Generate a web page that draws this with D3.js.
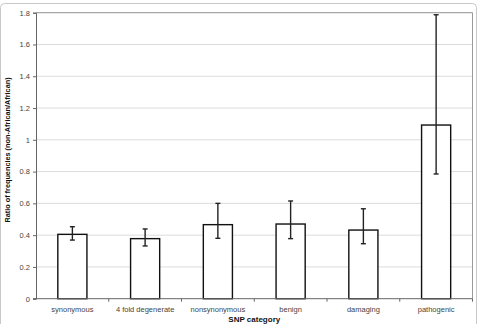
<!DOCTYPE html>
<html>
<head>
<meta charset="utf-8">
<script src="https://cdn.jsdelivr.net/npm/d3@7"></script>
<style>
  html, body { margin: 0; padding: 0; background: #fff; }
  svg { display: block; font-family: "Liberation Sans", Arial, sans-serif; }
</style>
</head>
<body>
<div id="svgOutput"></div>
<script>
// data

const categories = ["synonymous", "4 fold degenerate", "nonsynonymous", "benign", "damaging", "pathogenic"];
const ratios = [0.405, 0.378, 0.466, 0.470, 0.432, 1.093];
const errLow = [0.369, 0.332, 0.380, 0.378, 0.346, 0.785];
const errHigh = [0.453, 0.439, 0.600, 0.615, 0.566, 1.787];
const yTicks = [0, 0.2, 0.4, 0.6, 0.8, 1, 1.2, 1.4, 1.6, 1.8];

// config

const width = 480;
const height = 324;
const margin = { top: 12.7, bottom: 25.3, left: 36, right: 7.5 };

const data = categories.map((c, i) => ({
  cat: c, value: ratios[i], lo: errLow[i], hi: errHigh[i]
}));

// scales

const xScale = d3.scaleBand()
  .domain(categories)
  .range([margin.left, width - margin.right])
  .paddingInner(0.6)
  .paddingOuter(0.3);

const xOuter = d3.scaleBand()
  .domain(categories)
  .range([margin.left, width - margin.right]);

const yScale = d3.scaleLinear()
  .domain([0, 1.8])
  .range([height - margin.bottom, margin.top]);

const svg = d3.select("#svgOutput")
  .append("svg")
  .attr("width", width)
  .attr("height", height)
  .attr("viewBox", [0, 0, width, height]);

// outer frame
svg.append("rect")
  .attr("x", 0.5).attr("y", 3.5)
  .attr("width", 476).attr("height", 330)
  .attr("rx", 4)
  .attr("fill", "none")
  .attr("stroke", "#c8c8c8")
  .attr("stroke-width", 1);

// gridlines
svg.append("g")
  .selectAll("line")
  .data(yTicks.slice(1))
  .join("line")
  .attr("x1", margin.left)
  .attr("x2", width - margin.right)
  .attr("y1", d => yScale(d))
  .attr("y2", d => yScale(d))
  .attr("stroke", "#dcdcdc")
  .attr("stroke-width", 1);

// plot area border (top and right)
svg.append("path")
  .attr("d", `M${margin.left},${yScale(1.8)}H${width - margin.right}V${yScale(0)}`)
  .attr("fill", "none")
  .attr("stroke", "#9a9a9a")
  .attr("stroke-width", 1);

// bars
svg.selectAll("rect.bar")
  .data(data)
  .join("rect")
  .attr("class", "bar")
  .attr("x", d => xScale(d.cat))
  .attr("y", d => yScale(d.value))
  .attr("width", xScale.bandwidth())
  .attr("height", d => yScale(0) - yScale(d.value))
  .attr("fill", "#fff")
  .attr("stroke", "#111")
  .attr("stroke-width", 1.4);

// error bars
const cx = d => xScale(d.cat) + xScale.bandwidth() / 2;
const err = svg.append("g").attr("stroke", "#222").attr("stroke-width", 1.4);

err.selectAll("line.stem")
  .data(data)
  .join("line")
  .attr("class", "stem")
  .attr("x1", cx).attr("x2", cx)
  .attr("y1", d => yScale(d.lo))
  .attr("y2", d => yScale(d.hi));

err.selectAll("line.capHi")
  .data(data)
  .join("line")
  .attr("class", "capHi")
  .attr("x1", d => cx(d) - 2.5).attr("x2", d => cx(d) + 2.5)
  .attr("y1", d => yScale(d.hi)).attr("y2", d => yScale(d.hi));

err.selectAll("line.capLo")
  .data(data)
  .join("line")
  .attr("class", "capLo")
  .attr("x1", d => cx(d) - 2.5).attr("x2", d => cx(d) + 2.5)
  .attr("y1", d => yScale(d.lo)).attr("y2", d => yScale(d.lo));

// axes

const yAxis = d3.axisLeft(yScale)
  .tickValues(yTicks)
  .tickFormat(d => String(d))
  .tickSize(3)
  .tickPadding(3);

svg.append("g")
  .attr("transform", `translate(${margin.left},0)`)
  .call(yAxis)
  .call(g => g.select(".domain").attr("stroke", "#666"))
  .call(g => g.selectAll(".tick line").attr("stroke", "#666"))
  .call(g => g.selectAll(".tick text")
    .attr("fill", "#444")
    .style("font-size", "7.5px")
    .style("font-family", "Liberation Sans, Arial, sans-serif"));

// x axis with ticks on category boundaries
const xg = svg.append("g")
  .attr("transform", `translate(0,${yScale(0)})`);

xg.append("line")
  .attr("x1", margin.left - 3)
  .attr("x2", width - margin.right)
  .attr("stroke", "#666");

xg.selectAll("line.tick")
  .data(categories.slice(1).concat(["__end"]))
  .join("line")
  .attr("class", "tick")
  .attr("x1", (d, i) => xOuter.step() * (i + 1) + margin.left)
  .attr("x2", (d, i) => xOuter.step() * (i + 1) + margin.left)
  .attr("y1", 0).attr("y2", 3)
  .attr("stroke", "#666");

xg.selectAll("text")
  .data(categories)
  .join("text")
  .attr("x", d => xOuter(d) + xOuter.bandwidth() / 2)
  .attr("y", 13)
  .attr("text-anchor", "middle")
  .attr("fill", "#444")
  .style("font-size", "7.5px")
  .text(d => d);

// axis titles
svg.append("text")
  .attr("x", (margin.left + width - margin.right) / 2)
  .attr("y", 322)
  .attr("text-anchor", "middle")
  .attr("font-weight", "bold")
  .style("font-size", "8px")
  .attr("fill", "#111")
  .text("SNP category");

svg.append("text")
  .attr("transform", "translate(10,150) rotate(-90)")
  .attr("text-anchor", "middle")
  .attr("font-weight", "bold")
  .style("font-size", "7.3px")
  .attr("fill", "#111")
  .text("Ratio of frequencies (non-African/African)");
</script>
</body>
</html>
